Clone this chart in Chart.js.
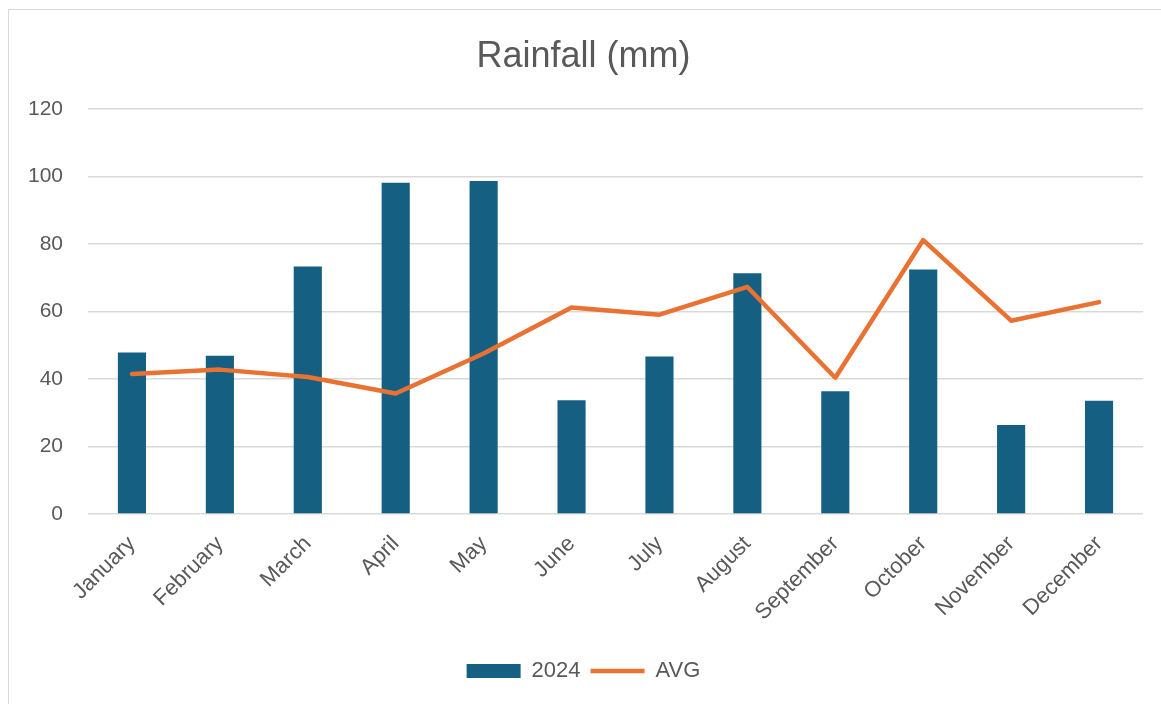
<!DOCTYPE html>
<html>
<head>
<meta charset="utf-8">
<script src="https://cdn.jsdelivr.net/npm/chart.js@4"></script>
<style>
  html, body { margin: 0; padding: 0; background: #fff; overflow: hidden; }
  #frame { position: absolute; left: 8px; top: 9px; width: 1300px; height: 900px; border: 1.5px solid #d9d9d9; }
  #wrap { position: absolute; left: 0; top: 0; width: 1161px; height: 704px; }
</style>
</head>
<body>
<div id="frame"></div>
<div id="wrap"><canvas id="chart" width="1161" height="704"></canvas></div>
<script>
const months = ['January', 'February', 'March', 'April', 'May', 'June', 'July', 'August', 'September', 'October', 'November', 'December'];
const rain2024 = [47.9, 46.9, 73.4, 98.2, 98.7, 33.7, 46.7, 71.4, 36.4, 72.5, 26.4, 33.6];
const rainAvg = [41.5, 42.8, 40.6, 35.7, 47.6, 61.2, 59.1, 67.3, 40.4, 81.2, 57.3, 62.8];
const yTicks = [0, 20, 40, 60, 80, 100, 120];

Chart.defaults.font.family = "'Liberation Sans', Arial, sans-serif";
Chart.defaults.color = '#595959';

const canvas = document.getElementById('chart');

// some left padding nudges the centred title/legend right, like the original
const padLeft = 24;

new Chart(canvas, {
  type: 'bar',
  data: {
    labels: months,
    datasets: [
      {
        type: 'bar',
        label: '2024',
        data: rain2024,
        backgroundColor: '#156082',
        borderWidth: 0,
        barPercentage: 0.32,
        categoryPercentage: 1,
        pointStyle: 'rect',
        order: 2,
      },
      {
        type: 'line',
        label: 'AVG',
        data: rainAvg,
        borderColor: '#E97132',
        backgroundColor: '#E97132',
        borderWidth: 4.5,
        borderCapStyle: 'round',
        borderJoinStyle: 'round',
        tension: 0,
        pointRadius: 0,
        pointHoverRadius: 0,
        pointStyle: 'line',
        order: 1,
      },
    ],
  },
  options: {
    responsive: false,
    animation: false,
    layout: { padding: { left: padLeft, right: 18, top: 0, bottom: 12 } },
    plugins: {
      title: {
        display: true,
        text: 'Rainfall (mm)',
        color: '#595959',
        font: { size: 36, weight: 'normal' },
        padding: { top: 35, bottom: 31 },
      },
      legend: {
        position: 'bottom',
        labels: {
          usePointStyle: true,
          pointStyleWidth: 54,
          boxHeight: 14,
          color: '#595959',
          font: { size: 22 },
          padding: 10,
          sort: (a, b) => a.datasetIndex - b.datasetIndex,
        },
      },
      tooltip: { enabled: false },
    },
    scales: {
      x: {
        grid: { display: false },
        border: { display: false },
        ticks: {
          autoSkip: false,
          maxRotation: 45,
          minRotation: 45,
          font: { size: 22 },
          padding: 9,
        },
        afterFit: (scale) => { scale.height = 136; },
      },
      y: {
        min: 0,
        max: 120,
        afterBuildTicks: (scale) => { scale.ticks = yTicks.map((v) => ({ value: v })); },
        grid: { color: '#d9d9d9', lineWidth: 1.5, drawTicks: false },
        border: { display: false },
        ticks: { font: { size: 21 }, padding: 25 },
        afterFit: (scale) => { scale.width = 88 - padLeft; },
      },
    },
  },
});
</script>
</body>
</html>
